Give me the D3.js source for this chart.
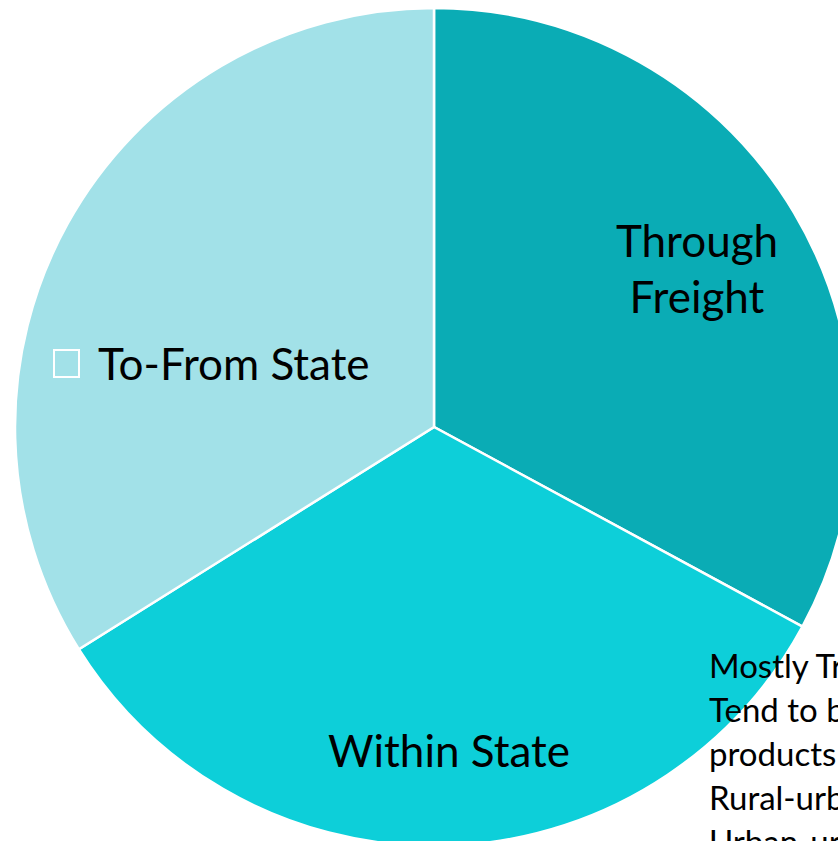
<!DOCTYPE html>
<html>
<head>
<meta charset="utf-8">
<script src="https://cdn.jsdelivr.net/npm/d3@7"></script>
<style>
  body { margin: 0; background: #fff; }
  svg { display: block; font-family: Lato, "Open Sans", sans-serif; }
</style>
</head>
<body>
<svg id="canvas" width="838" height="841"></svg>
<script>
// slices, clockwise from 12 o'clock
const categories = ['Through Freight', 'Within State', 'To-From State']
const shares = [32.9, 33.2, 33.9]
const sliceColors = ['#0AACB5', '#0DCFD9', '#A2E1E8']
const noteLines = ['Mostly Trucks', 'Tend to be lower value', 'products', 'Rural-urban', 'Urban-urban']

const svg = d3.select('#canvas')
const cx = 434
const cy = 427
const radius = 419

const pie = d3.pie().sort(null).value(d => d.value)
const arc = d3.arc().innerRadius(0).outerRadius(radius)

const slices = pie(categories.map((c, i) => ({ name: c, value: shares[i], color: sliceColors[i] })))

const g = svg.append('g').attr('transform', `translate(${cx},${cy})`)

g.selectAll('path')
  .data(slices)
  .enter()
  .append('path')
  .attr('d', arc)
  .attr('fill', d => d.data.color)
  .attr('stroke', '#fff')
  .attr('stroke-width', 2.5)

// slice labels
let throughLabel = g.append('text')
  .attr('text-anchor', 'middle')
  .attr('font-size', 44)
  .attr('fill', '#000')
throughLabel.append('tspan').attr('x', 263).attr('y', -170).text('Through')
throughLabel.append('tspan').attr('x', 263).attr('y', -114).text('Freight')

g.append('text')
  .attr('x', 15)
  .attr('y', 340)
  .attr('text-anchor', 'middle')
  .attr('font-size', 44)
  .attr('fill', '#000')
  .text('Within State')

g.append('rect')
  .attr('x', -380)
  .attr('y', -77)
  .attr('width', 25)
  .attr('height', 27)
  .attr('fill', 'none')
  .attr('stroke', '#fff')
  .attr('stroke-width', 2)

g.append('text')
  .attr('x', -336)
  .attr('y', -47)
  .attr('font-size', 44)
  .attr('fill', '#000')
  .text('To-From State')

// side note, runs off the right edge
svg.append('g')
  .selectAll('text')
  .data(noteLines)
  .enter()
  .append('text')
  .attr('x', 709)
  .attr('y', (d, i) => 678 + i * 44)
  .attr('font-size', 33)
  .attr('fill', '#000')
  .text(d => d)
</script>
</body>
</html>
